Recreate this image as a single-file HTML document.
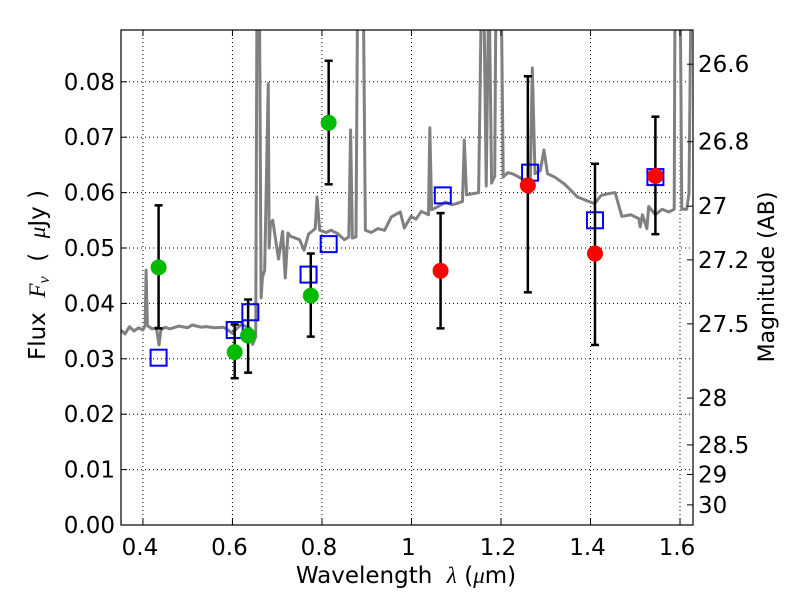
<!DOCTYPE html>
<html><head><meta charset="utf-8"><style>
body{margin:0;background:#fff;}
svg{display:block;font-family:"DejaVu Sans","Liberation Sans",sans-serif;}
</style></head><body>
<svg id="chart" width="800" height="600">
<defs><clipPath id="clip"><rect x="121" y="30" width="572" height="495"/></clipPath></defs>
<g id="grid"></g>
<g id="plot" clip-path="url(#clip)"></g>
<rect x="121" y="30" width="572" height="495" fill="none" stroke="#000" stroke-width="1.2"/>
<g id="axes"></g>
<text x="406" y="583" font-size="23" text-anchor="middle" xml:space="preserve">Wavelength  <tspan font-style="italic" font-family="Liberation Serif">λ</tspan> (<tspan font-style="italic" font-family="Liberation Serif">μ</tspan>m)</text>
<text transform="translate(45,275) rotate(-90)" font-size="23" text-anchor="middle" xml:space="preserve">Flux  <tspan font-style="italic" font-family="Liberation Serif">F</tspan><tspan font-style="italic" font-family="Liberation Serif" font-size="16" dy="4">ν</tspan><tspan dy="-4">  (  </tspan><tspan font-style="italic" font-family="Liberation Serif">μ</tspan>Jy )</text>
<text transform="translate(774,277) rotate(-90)" font-size="22" text-anchor="middle">Magnitude (AB)</text>
</svg>
<script>
const xTicks=[0.4,0.6,0.8,1.0,1.2,1.4,1.6];
const xTickLabels=["0.4","0.6","0.8","1","1.2","1.4","1.6"];
const yTicks=[0,0.01,0.02,0.03,0.04,0.05,0.06,0.07,0.08];
const yTickLabels=["0.00","0.01","0.02","0.03","0.04","0.05","0.06","0.07","0.08"];
const magTicks=[26.6,26.8,27,27.2,27.5,28,28.5,29,30];
const magTickLabels=["26.6","26.8","27","27.2","27.5","28","28.5","29","30"];
const specWave=[0.35,0.36,0.37,0.38,0.39,0.40,0.405,0.407,0.41,0.42,0.43,0.436,0.44,0.45,0.46,0.48,0.50,0.51,0.53,0.54,0.56,0.58,0.59,0.60,0.61,0.62,0.64,0.645,0.652,0.655,0.66,0.664,0.667,0.672,0.68,0.682,0.685,0.69,0.703,0.712,0.718,0.724,0.73,0.75,0.76,0.77,0.785,0.789,0.795,0.81,0.82,0.835,0.85,0.86,0.864,0.868,0.876,0.88,0.885,0.892,0.897,0.91,0.925,0.94,0.955,0.975,0.984,0.999,1.01,1.022,1.033,1.038,1.041,1.045,1.06,1.076,1.09,1.1,1.114,1.118,1.123,1.15,1.157,1.161,1.167,1.173,1.179,1.186,1.189,1.195,1.2,1.205,1.215,1.226,1.24,1.253,1.265,1.27,1.276,1.288,1.296,1.304,1.32,1.341,1.355,1.371,1.39,1.409,1.424,1.439,1.455,1.47,1.49,1.508,1.511,1.516,1.526,1.53,1.545,1.56,1.575,1.587,1.589,1.6,1.604,1.615,1.62,1.625,1.63];
const specFlux=[0.0352,0.0345,0.0358,0.035,0.0356,0.0352,0.036,0.046,0.036,0.0354,0.0356,0.0325,0.0352,0.0357,0.0354,0.0359,0.0356,0.0361,0.0357,0.0358,0.0356,0.0357,0.0352,0.0346,0.0355,0.0362,0.0355,0.0326,0.034,0.1,0.1,0.041,0.0447,0.046,0.0797,0.05,0.0545,0.055,0.048,0.053,0.0446,0.0527,0.0521,0.0515,0.0496,0.0525,0.0535,0.0592,0.0532,0.0528,0.0532,0.0526,0.0515,0.052,0.0713,0.0518,0.052,0.1,0.1,0.1,0.0532,0.0528,0.0535,0.0532,0.0556,0.0565,0.0536,0.0557,0.0552,0.0566,0.0562,0.056,0.0717,0.0569,0.0575,0.0583,0.0578,0.058,0.0584,0.0695,0.0596,0.06,0.1,0.1,0.0612,0.1,0.0617,0.063,0.1,0.1,0.1,0.0628,0.0636,0.0634,0.0628,0.0622,0.06,0.0825,0.0634,0.064,0.0677,0.0634,0.0628,0.0616,0.0605,0.0592,0.0586,0.058,0.0595,0.0598,0.06,0.0557,0.056,0.0553,0.0538,0.056,0.0535,0.0575,0.056,0.057,0.0565,0.057,0.1,0.1,0.057,0.057,0.0598,0.1,0.1];
const greenWave=[0.435,0.605,0.635,0.775,0.815];
const greenFlux=[0.0465,0.0312,0.0342,0.0414,0.0726];
const greenLo=[0.0355,0.0265,0.0275,0.034,0.0615];
const greenHi=[0.0577,0.0362,0.0407,0.049,0.0838];
const redWave=[1.065,1.26,1.41,1.545];
const redFlux=[0.0459,0.0613,0.049,0.063];
const redLo=[0.0355,0.042,0.0325,0.0525];
const redHi=[0.0563,0.081,0.0652,0.0737];
const modelWave=[0.435,0.605,0.64,0.77,0.815,1.07,1.265,1.41,1.545];
const modelFlux=[0.0302,0.0352,0.0384,0.0452,0.0507,0.0595,0.0636,0.055,0.0628];

const X0=121,X1=693,Y0=525,Y1=30,XMIN=0.351,XMAX=1.629,YMIN=0,YMAX=0.08935;
const sx=v=>X0+(v-XMIN)/(XMAX-XMIN)*(X1-X0);
const sy=v=>Y0-(v-YMIN)/(YMAX-YMIN)*(Y0-Y1);
const magToFlux=m=>Math.pow(10,(23.9-m)/2.5);
const NS="http://www.w3.org/2000/svg";
function mk(tag,attrs,parent){const e=document.createElementNS(NS,tag);for(const k in attrs)e.setAttribute(k,attrs[k]);parent.appendChild(e);return e;}
const grid=document.getElementById('grid'),plot=document.getElementById('plot'),axes=document.getElementById('axes');
xTicks.forEach((t,i)=>{const x=sx(t);
 const g=mk('line',{x1:x,x2:x,y1:Y1,y2:Y0,stroke:'#000','stroke-dasharray':'1,3','stroke-width':1},grid);
 
 mk('line',{x1:x,x2:x,y1:Y0,y2:Y0-6,stroke:'#000'},axes);mk('line',{x1:x,x2:x,y1:Y1,y2:Y1+6,stroke:'#000'},axes);
 const tx=mk('text',{x:x-3,y:Y0+30,'font-size':23,'text-anchor':'middle'},axes);tx.textContent=xTickLabels[i];
 });
yTicks.forEach((t,i)=>{const y=sy(t);
 const g=mk('line',{x1:X0,x2:X1,y1:y,y2:y,stroke:'#000','stroke-dasharray':'1,3','stroke-width':1},grid);
 
 mk('line',{x1:X0,x2:X0+6,y1:y,y2:y,stroke:'#000'},axes);
 const tx=mk('text',{x:X0-6,y:y+8,'font-size':23,'text-anchor':'end'},axes);tx.textContent=yTickLabels[i];
 });
magTicks.forEach((m,i)=>{const y=sy(magToFlux(m));
 mk('line',{x1:X1,x2:X1-6,y1:y,y2:y,stroke:'#000'},axes);
 const tx=mk('text',{x:X1+5,y:y+8,'font-size':23},axes);tx.textContent=magTickLabels[i];
 });
const sp=mk('polyline',{points:specWave.map((w,i)=>sx(w)+','+sy(specFlux[i])).join(' '),fill:'none',stroke:'#808080','stroke-width':3,'stroke-linejoin':'round'},plot);

function errs(ws,lo,hi,name){ws.forEach((w,i)=>{const x=sx(w);
 const l=mk('line',{x1:x,x2:x,y1:sy(lo[i]),y2:sy(hi[i]),stroke:'#000','stroke-width':2.5},plot);
 
 mk('line',{x1:x-4,x2:x+4,y1:sy(lo[i]),y2:sy(lo[i]),stroke:'#000','stroke-width':2.5},plot);
 mk('line',{x1:x-4,x2:x+4,y1:sy(hi[i]),y2:sy(hi[i]),stroke:'#000','stroke-width':2.5},plot);});}
modelWave.forEach((w,i)=>{const r=mk('rect',{x:sx(w)-8,y:sy(modelFlux[i])-8,width:16,height:16,fill:'none',stroke:'#0000ff','stroke-width':2},plot);
 });
errs(greenWave,greenLo,greenHi,'green-error-bar');errs(redWave,redLo,redHi,'red-error-bar');
greenWave.forEach((w,i)=>{const c=mk('circle',{cx:sx(w),cy:sy(greenFlux[i]),r:8,fill:'#00bb00'},plot);
 });
redWave.forEach((w,i)=>{const c=mk('circle',{cx:sx(w),cy:sy(redFlux[i]),r:8,fill:'#ff0000'},plot);
 });
</script>
</body></html>
